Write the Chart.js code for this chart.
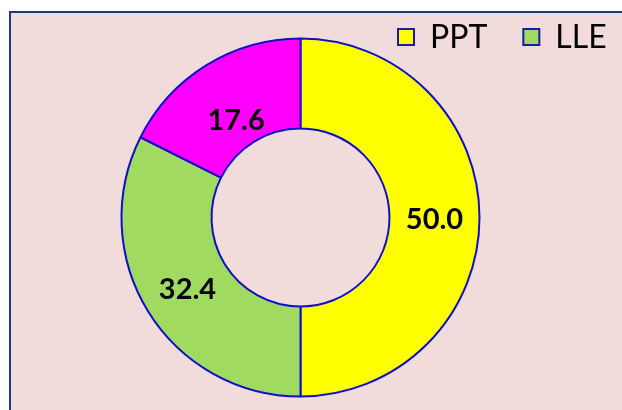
<!DOCTYPE html>
<html>
<head>
<meta charset="utf-8">
<script src="https://cdn.jsdelivr.net/npm/chart.js@4.4.1/dist/chart.umd.min.js"></script>
<style>
    html, body { margin: 0; padding: 0; background: #ffffff; }
    #wrap { position: relative; width: 622px; height: 410px; }
</style>
</head>
<body>
<div id="wrap"><canvas id="donut" width="622" height="410"></canvas></div>
<script>
// Chart data
const labels = ['PPT', 'LLE', ''];
const values = [50.0, 32.4, 17.6];
const sliceColors = ['#ffff00', '#a0da60', '#ff00ff'];

document.addEventListener('DOMContentLoaded', () => {
    const ctx = document.getElementById('donut');

    // pink plot frame with a dark left/top edge
    const frame = {
        id: 'frame',
        beforeDraw(chart) {
            const c = chart.ctx;
            c.save();
            c.fillStyle = '#ffffff';
            c.fillRect(0, 0, chart.width, chart.height);
            c.fillStyle = '#f2dcdb';
            c.fillRect(10, 12, chart.width - 10, chart.height - 12);
            c.strokeStyle = '#1f3a78';
            c.lineWidth = 2;
            c.beginPath();
            c.moveTo(10, chart.height);
            c.lineTo(10, 12);
            c.lineTo(chart.width, 12);
            c.stroke();
            c.restore();
        }
    };

    // legend in the top-right corner, skipping empty labels
    const cornerLegend = {
        id: 'cornerLegend',
        afterDraw(chart) {
            const c = chart.ctx;
            const ds = chart.data.datasets[0];
            let x = 398;
            const y = 29, box = 16;
            c.save();
            c.font = '32px Lato';
            c.textBaseline = 'middle';
            chart.data.labels.forEach((lab, i) => {
                if(!lab) return;
                c.fillStyle = ds.backgroundColor[i];
                c.fillRect(x, y, box, box);
                c.strokeStyle = '#1a1ab0';
                c.lineWidth = 2;
                c.strokeRect(x, y, box, box);
                c.fillStyle = '#000000';
                c.fillText(lab, x + 32, y + box / 2 + 1);
                x += 32 + c.measureText(lab).width + 36;
            });
            c.restore();
        }
    };

    // value labels on each slice
    const sliceLabels = {
        id: 'sliceLabels',
        afterDatasetsDraw(chart) {
            const c = chart.ctx;
            const nudge = [[0, 2], [1, 2], [6, 17]];
            c.save();
            c.font = 'bold 29px Lato';
            c.fillStyle = '#000000';
            c.textAlign = 'center';
            c.textBaseline = 'middle';
            chart.getDatasetMeta(0).data.forEach((arc, i) => {
                const p = arc.tooltipPosition();
                c.fillText(values[i].toFixed(1), p.x + nudge[i][0], p.y + nudge[i][1]);
            });
            c.restore();
        }
    };

    new Chart(ctx, {
        type: 'doughnut',
        data: {
            labels: labels,
            datasets: [{
                data: values,
                backgroundColor: sliceColors,
                borderColor: '#1010c8',
                borderWidth: 2,
                hoverOffset: 0
            }]
        },
        options: {
            responsive: false,
            animation: false,
            radius: 179,
            cutout: '49.7%',
            layout: { padding: { left: 0, right: 21, top: 25, bottom: 0 } },
            plugins: {
                legend: { display: false },
                tooltip: { enabled: false }
            }
        },
        plugins: [frame, cornerLegend, sliceLabels]
    });
});
</script>
</body>
</html>
